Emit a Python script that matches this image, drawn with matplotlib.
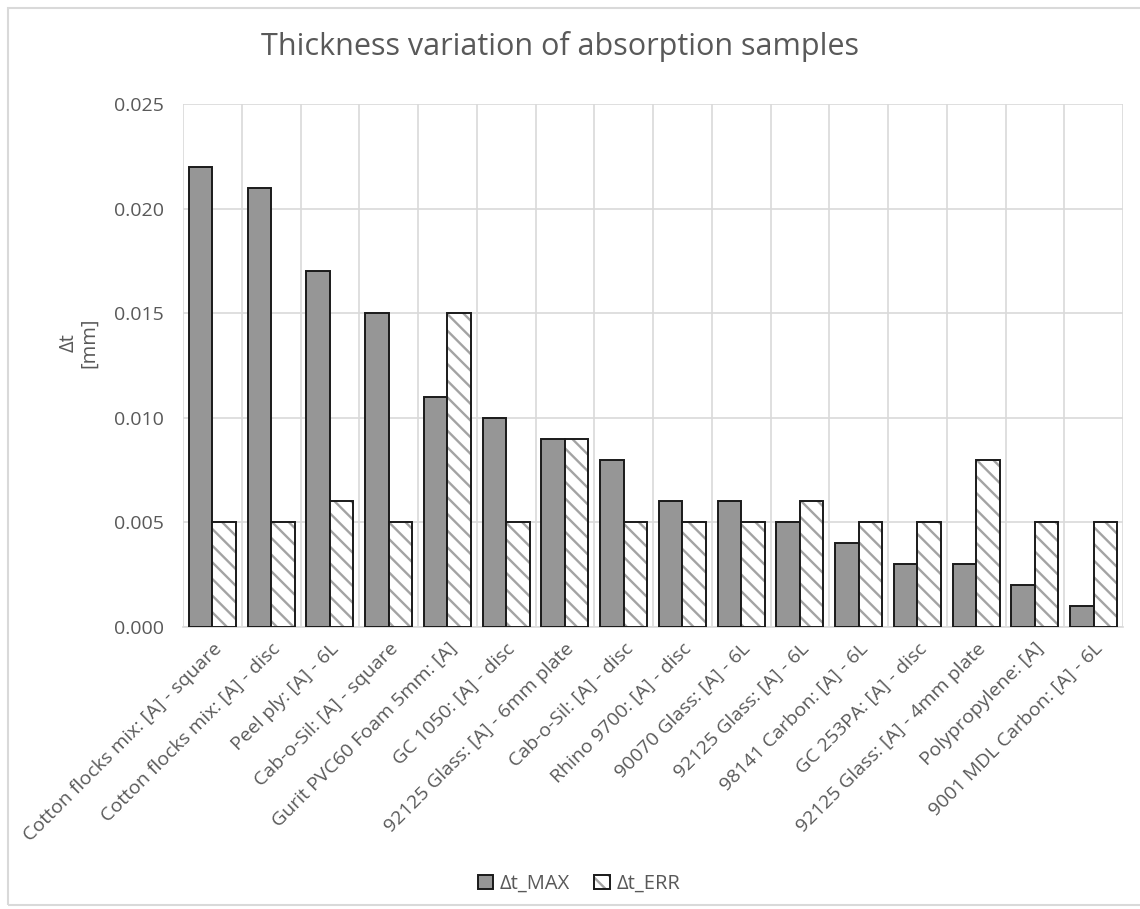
import numpy as np
import matplotlib.pyplot as plt
from matplotlib.patches import Rectangle

plt.rcParams['font.family'] = ['Open Sans', 'DejaVu Sans']
plt.rcParams['hatch.linewidth'] = 1.7

samples = [
    'Cotton flocks mix: [A] - square',
    'Cotton flocks mix: [A] - disc',
    'Peel ply: [A] - 6L',
    'Cab-o-Sil: [A] - square',
    'Gurit PVC60 Foam 5mm: [A]',
    'GC 1050: [A] - disc',
    '92125 Glass: [A] - 6mm plate',
    'Cab-o-Sil: [A] - disc',
    'Rhino 9700: [A] - disc',
    '90070 Glass: [A] - 6L',
    '92125 Glass: [A] - 6L',
    '98141 Carbon: [A] - 6L',
    'GC 253PA: [A] - disc',
    '92125 Glass: [A] - 4mm plate',
    'Polypropylene: [A]',
    '9001 MDL Carbon: [A] - 6L',
]
dt_max = [0.022, 0.021, 0.017, 0.015, 0.011, 0.010, 0.009, 0.008,
          0.006, 0.006, 0.005, 0.004, 0.003, 0.003, 0.002, 0.001]
dt_err = [0.005, 0.005, 0.006, 0.005, 0.015, 0.005, 0.009, 0.005,
          0.005, 0.005, 0.006, 0.005, 0.005, 0.008, 0.005, 0.005]
yticks = [0.000, 0.005, 0.010, 0.015, 0.020, 0.025]

text_col = '#595959'
grid_col = '#d9d9d9'
hatch_col = '#a3a3a3'
edge_col = '#1a1a1a'

fig = plt.figure(figsize=(11.4, 9.09), dpi=100, facecolor='white')

# light chart frame around the whole figure
fig.patches.append(Rectangle((8 / 1140, 4 / 909), 1.2, 897 / 909,
                             transform=fig.transFigure, fill=False,
                             edgecolor='#d9d9d9', lw=1.5, zorder=0))

ax = fig.add_axes([183 / 1140, 1 - 627 / 909, 940 / 1140, 523 / 909])

x = np.arange(len(samples))
w = 0.4
b_max = ax.bar(x - w / 2, dt_max, w, color='#969696', edgecolor=edge_col,
               lw=1.4, zorder=3)
# hatch takes the edge colour, so draw the grey stripes first
# and put a black outline on top
b_err_h = ax.bar(x + w / 2, dt_err, w, color='white', edgecolor=hatch_col,
                 hatch='\\\\', lw=0, zorder=3)
b_err_o = ax.bar(x + w / 2, dt_err, w, fill=False, edgecolor=edge_col,
                 lw=1.4, zorder=4)

ax.set_xlim(-0.5, len(samples) - 0.5)
ax.set_ylim(0, 0.025)
ax.set_yticks(yticks)
ax.set_yticklabels([f'{v:.3f}' for v in yticks])

# horizontal grid at the y ticks, vertical lines between categories
ax.set_xticks(x)
ax.set_xticks(np.arange(len(samples) + 1) - 0.5, minor=True)
ax.set_xticklabels(samples, rotation=45, ha='right', rotation_mode='anchor')
ax.grid(axis='y', color=grid_col, lw=1.2, zorder=0)
ax.grid(axis='x', which='minor', color=grid_col, lw=1.2, zorder=0)
ax.tick_params(axis='both', which='both', length=0, colors=text_col,
               labelsize=14)
ax.tick_params(axis='y', pad=14)
ax.tick_params(axis='x', pad=9)

for s in ['top', 'right', 'left']:
    ax.spines[s].set_visible(False)
ax.spines['bottom'].set_color(grid_col)
ax.spines['bottom'].set_linewidth(1.2)

fig.text(79 / 1140, 1 - 343 / 909, 'Δt\n[mm]', rotation=90, ha='center',
         va='center', color=text_col, fontsize=14.5, linespacing=1.05,
         multialignment='center')

fig.text(0.491, 0.949, 'Thickness variation of absorption samples',
         ha='center', va='center', fontsize=22, color=text_col)

fig.legend([b_max, (b_err_h, b_err_o)], ['Δt_MAX', 'Δt_ERR'],
           loc='center', bbox_to_anchor=(0.508, 0.0275), ncol=2,
           frameon=False, fontsize=14.5, labelcolor=text_col,
           handlelength=0.75, handleheight=0.75, handletextpad=0.35,
           columnspacing=1.2)

plt.savefig('out.png', dpi=100, facecolor='white')
plt.close()
